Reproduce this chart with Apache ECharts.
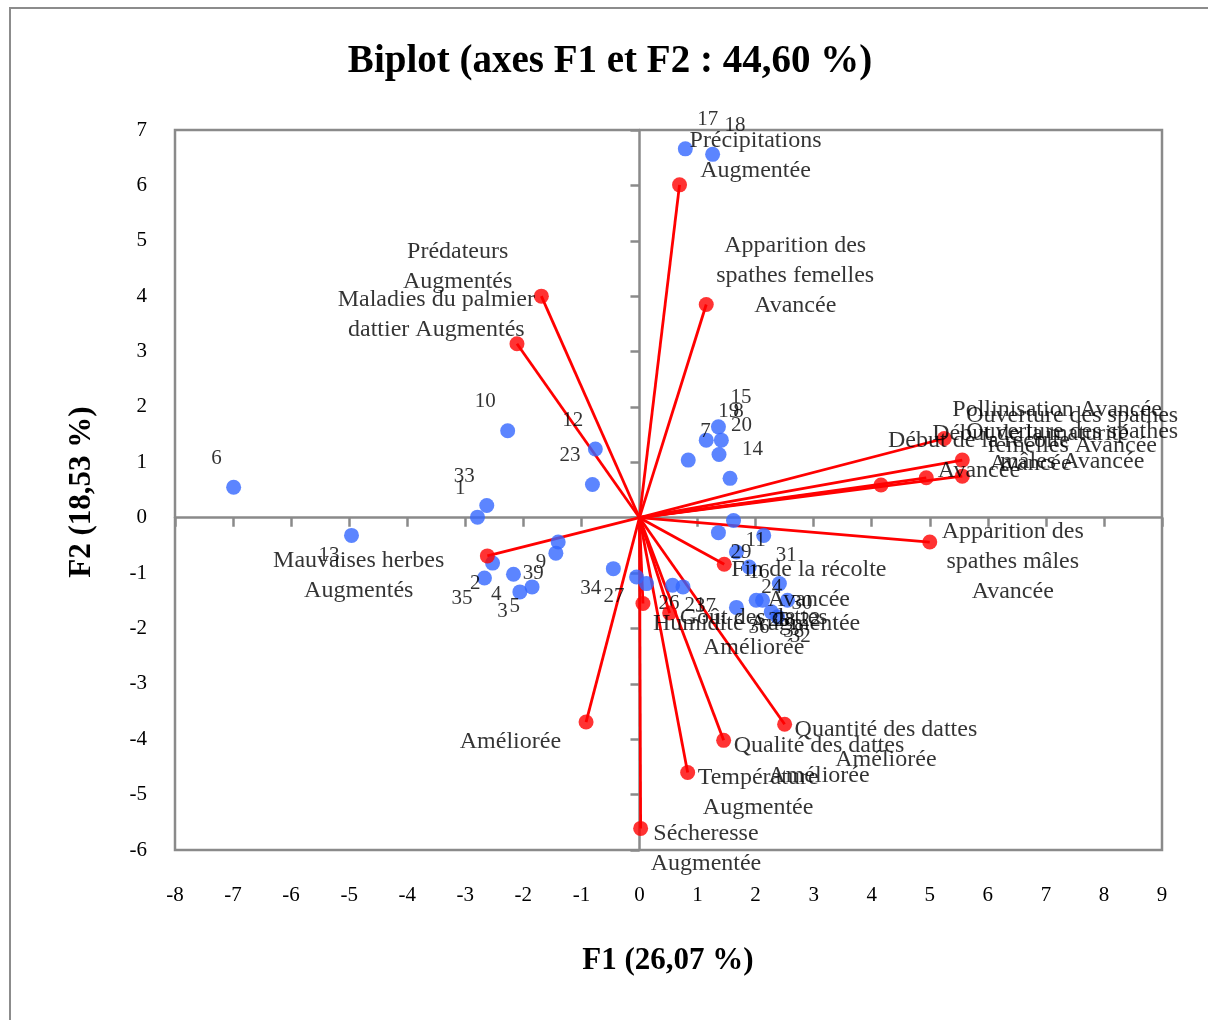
<!DOCTYPE html>
<html>
<head>
<meta charset="utf-8">
<script src="https://cdn.jsdelivr.net/npm/echarts@6/dist/echarts.min.js"></script>
<style>
html,body{margin:0;padding:0;background:#fff;}
#c{width:1208px;height:1020px;}
</style>
</head>
<body>
<div id="c"></div>
<script>
// ---- Observations (blue points) ----
const obsNames = ['1','2','3','4','5','6','7','8','9','10','11','12','13','14','15','16','17','18','19','20',
                  '21','22','23','24','25','26','27','28','29','30','31','32','33','34','35','36','37','38','39'];
const obsF1 = [-2.79,-2.53,-2.06,-2.17,-1.85,-6.99,0.84,1.41,-1.40,-2.27,1.62,-0.76,-4.96,1.56,1.36,1.67,0.79,1.26,1.15,1.37,
               0.57,2.55,-0.81,1.89,2.01,0.12,-0.05,2.12,1.36,2.41,2.14,2.38,-2.63,-0.45,-2.67,1.67,0.75,2.27,-1.44];
const obsF2 = [0.01,-0.82,-1.34,-1.02,-1.25,0.55,1.04,1.40,-0.44,1.57,-0.05,1.24,-0.32,0.71,1.64,-0.62,6.66,6.56,1.40,1.14,
               -1.22,-1.49,0.60,-0.89,-1.49,-1.19,-1.07,-1.49,-0.27,-1.19,-0.32,-1.79,0.22,-0.92,-1.09,-1.62,-1.25,-1.70,-0.64];

// ---- Variables (red vectors) ----
const varNames = [
  'Précipitations\nAugmentée',
  'Apparition des\nspathes femelles\nAvancée',
  'Prédateurs\nAugmentés',
  'Maladies du palmier\ndattier Augmentés',
  'Mauvaises herbes\nAugmentés',
  'Améliorée',
  'Fin de la récolte\nAvancée',
  'Humidité Augmentée',
  'Goût des dattes\nAméliorée',
  'Quantité des dattes\nAméliorée',
  'Qualité des dattes\nAméliorée',
  'Température\nAugmentée',
  'Sécheresse\nAugmentée',
  'Pollinisation Avancée',
  'Ouverture des spathes\nfemelles Avancée',
  'Ouverture des spathes\nmâles Avancée',
  'Début de la maturité\nAvancée',
  'Début de la récolte\nAvancée',
  'Apparition des\nspathes mâles\nAvancée'
];
const varF1 = [0.69,1.15,-1.69,-2.11,-2.62,-0.92,1.46,0.06,0.52,2.50,1.45,0.83,0.02,5.25,5.56,5.56,4.94,4.16,5.00];
const varF2 = [6.01,3.85,4.00,3.14,-0.69,-3.69,-0.84,-1.55,-1.72,-3.73,-4.02,-4.60,-5.61,1.43,1.04,0.75,0.72,0.59,-0.44];

// ---- Axis ticks ----
const xMin = -8, xMax = 9, yMin = -6, yMax = 7, tickStep = 1;

// ---- Text strings ----
const titleText = 'Biplot (axes F1 et F2 : 44,60 %)';
const xName = 'F1 (26,07 %)';
const yName = 'F2 (18,53 %)';

// ---- Label layout (styling, not data) ----
const FONT = '"Liberation Serif", "Times New Roman", serif';
const obsFontSize = 21, varFontSize = 24, lineH = 30;
const varGap = {2: 29, 3: -18, 4: 43, 5: 25, 6: 7, 13: 8, 14: 4, 15: 4, 16: 6, 17: 7, 18: 12};

const cnv = document.createElement('canvas');
const ctx = cnv.getContext('2d');
function textWidth(t, size) {
  ctx.font = size + 'px ' + FONT;
  return Math.max.apply(null, t.split('\n').map(l => ctx.measureText(l).width));
}
function offsetFor(x, y, text, size, gap) {
  const w = textWidth(text, size);
  const sx = x >= 0 ? 1 : -1;
  return [sx * (gap + w / 2), y >= 0 ? -29 : 20];
}

const lineSeries = varNames.map((n, i) => ({
  type: 'line',
  data: [[0, 0], [varF1[i], varF2[i]]],
  symbol: 'none',
  silent: true,
  z: 2,
  lineStyle: {color: '#ff0000', width: 2.8},
  animation: false
}));

const obsData = obsNames.map((n, i) => ({
  name: n,
  value: [obsF1[i], obsF2[i]],
  label: {offset: offsetFor(obsF1[i], obsF2[i], n, obsFontSize, 12)}
}));
const varData = varNames.map((n, i) => ({
  name: n,
  value: [varF1[i], varF2[i]],
  label: {offset: offsetFor(varF1[i], varF2[i], n, varFontSize, varGap[i] != null ? varGap[i] : 10)}
}));

const labelBase = {
  show: true,
  formatter: p => p.name,
  position: ['50%', '50%'],
  align: 'center',
  verticalAlign: 'middle',
  color: '#000',
  fontFamily: FONT,
  lineHeight: lineH,
  textBorderWidth: 0
};

const gray = '#8a8a8a';
const chart = echarts.init(document.getElementById('c'), null, {renderer: 'canvas'});
chart.setOption({
  animation: false,
  backgroundColor: '#fff',
  grid: {left: 175, right: 46, top: 130, bottom: 170, show: true, borderColor: gray, borderWidth: 2.5,
         containLabel: false, outerBoundsMode: 'none'},
  xAxis: [
    {type: 'value', min: xMin, max: xMax, interval: tickStep, position: 'bottom',
     axisLine: {show: false, onZero: false}, axisTick: {show: false}, splitLine: {show: false},
     axisLabel: {margin: 35, color: '#000', fontFamily: FONT, fontSize: 21}},
    {type: 'value', min: xMin, max: xMax, interval: tickStep, position: 'bottom',
     axisLine: {show: true, onZero: true, onZeroAxisIndex: 0, lineStyle: {color: gray, width: 2.5}},
     axisTick: {show: true, length: 9, lineStyle: {color: gray, width: 2.5}},
     axisLabel: {show: false}, splitLine: {show: false}}
  ],
  yAxis: [
    {type: 'value', min: yMin, max: yMax, interval: tickStep, position: 'left',
     axisLine: {show: false, onZero: false}, axisTick: {show: false}, splitLine: {show: false},
     axisLabel: {margin: 28, color: '#000', fontFamily: FONT, fontSize: 21}},
    {type: 'value', min: yMin, max: yMax, interval: tickStep, position: 'left',
     axisLine: {show: true, onZero: true, onZeroAxisIndex: 0, lineStyle: {color: gray, width: 2.5}},
     axisTick: {show: true, length: 9, lineStyle: {color: gray, width: 2.5}},
     axisLabel: {show: false}, splitLine: {show: false}}
  ],
  series: lineSeries.concat([
    {type: 'scatter', data: obsData, symbolSize: 15, z: 3, silent: true,
     itemStyle: {color: '#3366ff'},
     label: Object.assign({}, labelBase, {fontSize: obsFontSize})},
    {type: 'scatter', data: varData, symbolSize: 15, z: 4, silent: true,
     itemStyle: {color: '#ff0000'},
     label: Object.assign({}, labelBase, {fontSize: varFontSize})}
  ]),
  graphic: [
    {type: 'rect', z: -10, silent: true, shape: {x: 10, y: 8, width: 1400, height: 1200},
     style: {fill: 'transparent', stroke: '#8c8c8c', lineWidth: 2}},
    {type: 'text', x: 610, y: 62, silent: true,
     style: {text: titleText, font: 'bold 39px ' + FONT, fill: '#000', align: 'center', verticalAlign: 'middle',
             textAlign: 'center', textVerticalAlign: 'middle'}},
    {type: 'text', x: 668, y: 961, silent: true,
     style: {text: xName, font: 'bold 31px ' + FONT, fill: '#000', align: 'center', verticalAlign: 'middle',
             textAlign: 'center', textVerticalAlign: 'middle'}},
    {type: 'text', x: 82, y: 492, rotation: Math.PI / 2, silent: true,
     style: {text: yName, font: 'bold 31px ' + FONT, fill: '#000', align: 'center', verticalAlign: 'middle',
             textAlign: 'center', textVerticalAlign: 'middle'}}
  ]
});
</script>
</body>
</html>
